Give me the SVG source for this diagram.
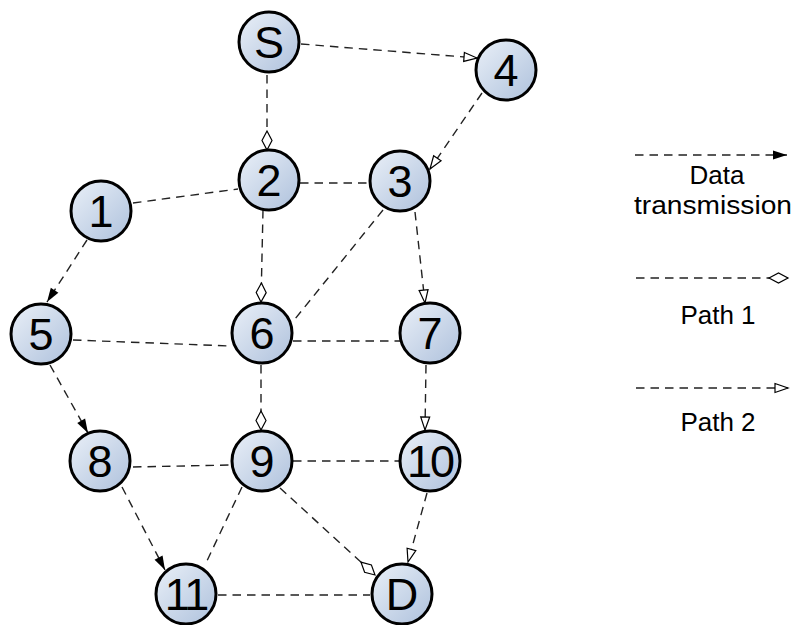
<svg xmlns="http://www.w3.org/2000/svg" width="795" height="625" viewBox="0 0 795 625">
<style>
.node circle{fill:url(#g);stroke:#000;stroke-width:3}
.node text{font-family:"Liberation Sans",Arial,sans-serif;font-size:45px;text-anchor:middle;fill:#000}
.e{stroke:#222;stroke-width:1.4;stroke-dasharray:8.5,6;fill:none}
.lg{font-family:"Liberation Sans",Arial,sans-serif;font-size:26px;text-anchor:middle;fill:#000}
</style>
<defs>
<linearGradient id="g" x1="0" y1="0" x2="1" y2="1">
<stop offset="0" stop-color="#eaf0f8"/>
<stop offset="1" stop-color="#aec1dc"/>
</linearGradient>
<marker id="af" markerUnits="userSpaceOnUse" markerWidth="16" markerHeight="10" refX="14" refY="4.5" orient="auto" overflow="visible">
<path d="M0,0 L14,4.5 L0,9 z" fill="#000"/>
</marker>
<marker id="ao" markerUnits="userSpaceOnUse" markerWidth="16" markerHeight="12" refX="14" refY="5" orient="auto" overflow="visible">
<path d="M1,0.5 L14,5 L1,9.5 z" fill="#fff" stroke="#000" stroke-width="1.2"/>
</marker>
<marker id="ad" markerUnits="userSpaceOnUse" markerWidth="22" markerHeight="12" refX="20" refY="6" orient="auto" overflow="visible">
<path d="M1,6 L10.5,1 L20,6 L10.5,11 z" fill="#fff" stroke="#000" stroke-width="1.2"/>
</marker>
</defs>
<g id="connectors">
<line class="e" x1="301" y1="44" x2="477" y2="58" marker-end="url(#ao)"/>
<line class="e" x1="267" y1="75" x2="267" y2="150" marker-end="url(#ad)"/>
<line class="e" x1="482" y1="93" x2="430" y2="169" marker-end="url(#ao)"/>
<line class="e" x1="300" y1="183" x2="370" y2="183"/>
<line class="e" x1="133" y1="203" x2="238" y2="189"/>
<line class="e" x1="87" y1="240" x2="47" y2="302" marker-end="url(#af)"/>
<line class="e" x1="263" y1="210" x2="261" y2="302" marker-end="url(#ad)"/>
<line class="e" x1="383" y1="210" x2="295" y2="319"/>
<line class="e" x1="415" y1="212" x2="425" y2="303" marker-end="url(#ao)"/>
<line class="e" x1="73" y1="340" x2="231" y2="346"/>
<line class="e" x1="293" y1="341" x2="400" y2="341"/>
<line class="e" x1="261" y1="365" x2="261" y2="430" marker-end="url(#ad)"/>
<line class="e" x1="426" y1="365" x2="425" y2="430" marker-end="url(#ao)"/>
<line class="e" x1="50" y1="365" x2="88" y2="433" marker-end="url(#af)"/>
<line class="e" x1="133" y1="467" x2="230" y2="465"/>
<line class="e" x1="293" y1="461" x2="400" y2="461"/>
<line class="e" x1="242" y1="487" x2="205" y2="565"/>
<line class="e" x1="122" y1="487" x2="165" y2="570" marker-end="url(#af)"/>
<line class="e" x1="280" y1="488" x2="375" y2="575" marker-end="url(#ad)"/>
<line class="e" x1="427" y1="493" x2="408" y2="562" marker-end="url(#ao)"/>
<line class="e" x1="218" y1="595" x2="370" y2="595"/>
</g>
<g id="nS" class="node"><circle cx="269" cy="42" r="30"/><text x="269" y="58">S</text></g>
<g id="n4" class="node"><circle cx="506" cy="70" r="30"/><text x="506" y="86">4</text></g>
<g id="n2" class="node"><circle cx="269" cy="180" r="30"/><text x="269" y="196">2</text></g>
<g id="n3" class="node"><circle cx="400" cy="181" r="30"/><text x="400" y="197">3</text></g>
<g id="n1" class="node"><circle cx="101" cy="211" r="30"/><text x="101" y="227">1</text></g>
<g id="n5" class="node"><circle cx="41" cy="334" r="30"/><text x="41" y="350">5</text></g>
<g id="n6" class="node"><circle cx="262" cy="333" r="30"/><text x="262" y="349">6</text></g>
<g id="n7" class="node"><circle cx="430" cy="333" r="30"/><text x="430" y="349">7</text></g>
<g id="n8" class="node"><circle cx="100" cy="461" r="30"/><text x="100" y="477">8</text></g>
<g id="n9" class="node"><circle cx="262" cy="461" r="30"/><text x="262" y="477">9</text></g>
<g id="n10" class="node"><circle cx="430" cy="461" r="30"/><text x="430" y="477" letter-spacing="-2">10</text></g>
<g id="n11" class="node"><circle cx="186" cy="594" r="30"/><text x="186" y="610" letter-spacing="-2">11</text></g>
<g id="nD" class="node"><circle cx="402" cy="594" r="30"/><text x="402" y="610">D</text></g>
<g id="legend">
<line class="e" x1="635" y1="155" x2="787" y2="155" marker-end="url(#af)"/>
<text class="lg" x="717" y="184">Data</text>
<text class="lg" x="713" y="214" textLength="158" lengthAdjust="spacingAndGlyphs">transmission</text>
<line class="e" x1="636" y1="278" x2="788" y2="278" marker-end="url(#ad)"/>
<text class="lg" x="718" y="324">Path 1</text>
<line class="e" x1="636" y1="388" x2="788" y2="388" marker-end="url(#ao)"/>
<text class="lg" x="718" y="431">Path 2</text>
</g>
</svg>
